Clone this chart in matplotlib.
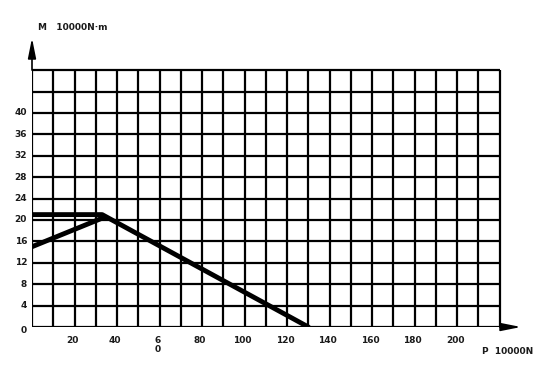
import matplotlib
matplotlib.use("Agg")
import matplotlib.pyplot as plt

# grelha e dados
grelha_x = list(range(0, 230, 10))        # linhas verticais 0..220
grelha_y = list(range(0, 52, 4))          # linhas horizontais 0..48
ticks_x = [20, 40, 60, 80, 100, 120, 140, 160, 180, 200]
labels_x = ["20", "40", "6\n0", "80", "100", "120", "140", "160", "180", "200"]
ticks_y = [0, 4, 8, 12, 16, 20, 24, 28, 32, 36, 40]

# linha superior (patamar e descida)
linha1_x = [0, 33, 130]
linha1_y = [21, 21, 0]
# linha inferior (subida)
linha2_x = [0, 34]
linha2_y = [15, 20.5]

fig = plt.figure(figsize=(5.38, 3.75), dpi=100)
ax = fig.add_axes([32/538, 48/375, 489/538, 289/375])
ax.set_xlim(0, 230)
ax.set_ylim(0, 54)
ax.axis("off")

xmax = grelha_x[-1]
ymax = grelha_y[-1]
ax.vlines(grelha_x, 0, ymax, color="black", lw=1.6)
ax.hlines(grelha_y, 0, xmax, color="black", lw=1.6)

# setas dos eixos (finas e compridas)
seta = dict(arrowstyle="-|>,head_length=1.0,head_width=0.2", color="black",
            lw=1.2, mutation_scale=12, shrinkA=0, shrinkB=0)
ax.annotate("", xy=(0, 54), xytext=(0, ymax), arrowprops=seta)
ax.annotate("", xy=(230, 0), xytext=(xmax, 0), arrowprops=seta)

ax.plot(linha1_x, linha1_y, color="black", lw=3.5, solid_capstyle="round")
ax.plot(linha2_x, linha2_y, color="black", lw=3.5, solid_capstyle="round")

fonte = dict(family="DejaVu Sans", size=6.5, weight="bold", color="#1a1a1a")
for t in ticks_y:
    y = t - 0.6 if t == 0 else t
    ax.text(-2.3, y, str(t), ha="right", va="center", **fonte)
for t, l in zip(ticks_x, labels_x):
    ax.text(t - 1, -1.6, l, ha="center", va="top", linespacing=1.1, **fonte)

fig.text(38/538, 1 - 28/375, "M   10000N·m", ha="left", va="center", **fonte)
fig.text(482/538, 1 - 352/375, "P  10000N", ha="left", va="center", **fonte)

fig.savefig("out.png", dpi=100)
